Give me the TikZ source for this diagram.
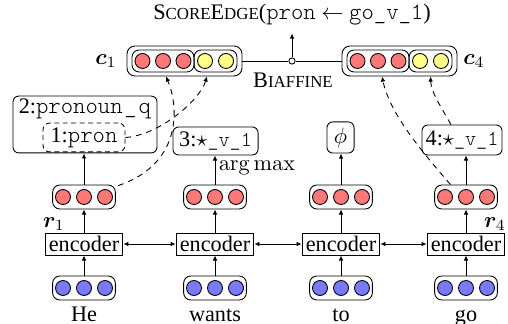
\documentclass[tikz,border=0pt]{standalone}
\usepackage[no-math]{fontspec}
\usepackage{amsmath}
\usepackage{bm}
\setmainfont{Liberation Serif}
\setmonofont{Latin Modern Mono Light}[Scale=1.06]
\newfontfamily\ttn{Latin Modern Mono Light}[Scale=0.95]
\usetikzlibrary{arrows.meta,calc}
\definecolor{redc}{RGB}{255,120,120}
\definecolor{bluec}{RGB}{122,122,255}
\definecolor{yelc}{RGB}{255,255,135}
\newcommand\fsc[1]{{\fontsize{7.6pt}{9pt}\selectfont #1}}
\tikzset{
  vecbox/.style={draw, rounded corners=3.2pt, minimum width=28.2pt, minimum height=10.8pt, inner sep=0pt},
  unit/.style={draw, circle, minimum size=6.75pt, inner sep=0pt},
  encbox/.style={draw, minimum width=35pt, minimum height=9.9pt, inner xsep=1.5pt, inner ysep=0pt},
  lblbox/.style={draw, rounded corners=2.6pt, inner sep=0pt},
  arr/.style={-{Latex[length=2.3pt,width=2.1pt]}},
  darr/.style={{Latex[length=2.3pt,width=2.1pt]}-{Latex[length=2.3pt,width=2.1pt]}},
  dasharr/.style={arr, dashed, dash pattern=on 2.6pt off 2.2pt},
  word/.style={inner sep=0pt, anchor=base}
}
\begin{document}
\begin{tikzpicture}[x=0.45pt,y=-0.45pt]
\useasboundingbox (0,0) rectangle (508,324);

% columns
\foreach \i/\cx/\w in {1/84/He,2/215/wants,3/341/to,4/466/go} {
  \node[vecbox] (e\i) at (\cx,288) {};
  \foreach \j/\d in {1/-21,2/0,3/21}
    \node[unit,fill=bluec] (e\i c\j) at (\cx+\d,288) {};
  \node[word] (w\i) at (\cx,321) {\w};
  \node[encbox] (enc\i) at (\cx,244) {encoder};
  \node[vecbox] (h\i) at (\cx,197) {};
  \foreach \j/\d in {1/-21,2/0,3/21}
    \node[unit,fill=redc] (h\i c\j) at (\cx+\d,197) {};
  \draw[arr] (e\i.north) -- (enc\i.south);
  \draw[arr] (enc\i.north) -- (h\i.north |- h\i.south);
}
\foreach \a/\b in {1/2,2/3,3/4}
  \draw[darr] (enc\a.east) -- (enc\b.west);

\node (r1) at (54,224) {$\bm{r}_1$};
\node (r4) at (495,224) {$\bm{r}_4$};

% upper label boxes
\node[lblbox, minimum width=64.8pt, minimum height=25.6pt] (pq) at (85,124.5) {};
\node[word] (pqt) at (85,114) {2:\texttt{pronoun\kern0.8pt\_\kern0.8pt q}};
\node[lblbox, dashed, dash pattern=on 2.2pt off 1.6pt, rounded corners=3pt, minimum width=36.9pt, minimum height=13pt] (pron) at (84,137.5) {1:\texttt{pron}};
\node[lblbox, minimum width=38.3pt, minimum height=12.6pt] (b2) at (215.5,141) {3:$\star${\ttn\_v\_1}};
\node[lblbox, minimum width=12.2pt, minimum height=14pt] (b3) at (340.5,137.5) {$\phi$};
\node[lblbox, minimum width=36pt, minimum height=13.5pt] (b4) at (462,140) {4:$\star${\ttn\_v\_1}};

\draw[arr] (h1.north) -- (h1.north |- pq.south);
\draw[arr] (h2.north) -- node[right, inner sep=1.5pt, yshift=1pt] (am) {$\arg\max$} (h2.north |- b2.south);
\draw[arr] (h3.north) -- (h3.north |- b3.south);
\draw[arr] (h4.north) -- (h4.north |- b4.south);

% concatenated vectors c1 and c4
\foreach \n/\L in {c1/127,c4/342} {
  \node[vecbox, rounded corners=3.6pt, minimum width=51.75pt, minimum height=13.5pt] (\n) at (\L+57.5,61) {};
  \node[vecbox, rounded corners=3.2pt, minimum width=27.9pt, minimum height=9.9pt] (\n rb) at (\L+36,61) {};
  \node[vecbox, rounded corners=3.2pt, minimum width=19.3pt, minimum height=9.9pt] (\n yb) at (\L+88.5,61) {};
  \foreach \j/\d in {1/15.5,2/36,3/56.5}
    \node[unit,fill=redc] (\n r\j) at (\L+\d,61) {};
  \foreach \j/\d in {1/78,2/99}
    \node[unit,fill=yelc] (\n y\j) at (\L+\d,61) {};
}
\node (c1l) at (106,61) {$\bm{c}_1$};
\node (c4l) at (474,61) {$\bm{c}_4$};

% biaffine
\node[draw, circle, fill=white, minimum size=2.8pt, inner sep=0pt] (dot) at (292,61) {};
\draw (c1.east) -- (dot.west);
\draw (dot.east) -- (c4.west);
\node (baf) at (293,80) {B\fsc{IAFFINE}};
\node[inner sep=3.4pt] (score) at (292,15) {S\fsc{CORE}E\fsc{DGE}(\texttt{pron} $\leftarrow$ \texttt{go\_v\_1})};
\draw[arr] (dot.north) -- (score.south);

% dashed connections
\draw[dasharr] ([xshift=1pt,yshift=-0.5pt]h1.north east) .. controls (180,165) and (180,110) .. ([xshift=1.35pt]c1.south -| c1r2);
\draw[dasharr] (pron.east) .. controls (160,135) and (200,100) .. ([xshift=0.9pt]c1.south -| c1y1);
\draw[dasharr] ([xshift=-7pt]h4.north) .. controls (425,155) and (390,115) .. ([xshift=1.8pt]c4.south -| c4r2);
\draw[dasharr] ([xshift=-5pt]b4.north) .. controls (440,105) and (431,92) .. (c4.south -| c4yb);
\end{tikzpicture}
\end{document}
